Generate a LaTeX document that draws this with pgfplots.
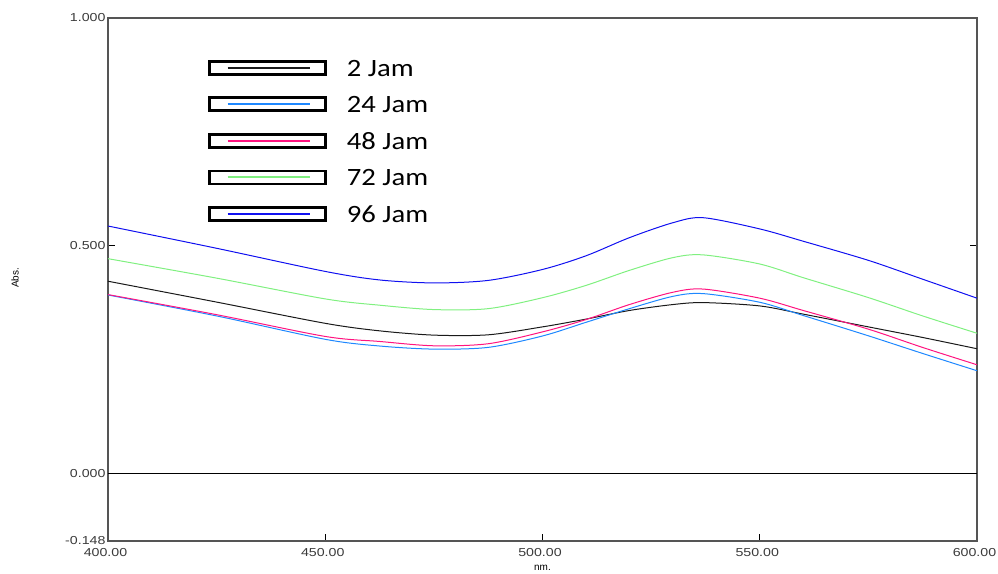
\documentclass[border=0pt]{standalone}
\usepackage{pgfplots}
\pgfplotsset{compat=1.18}
\usepackage{fontspec}
\setmainfont{Liberation Sans}
\newfontfamily\tickfont[FakeStretch=1.23]{Liberation Sans}
\newfontfamily\legendfont[FakeStretch=1.15]{Carlito}

\definecolor{axisgray}{HTML}{555555}
\definecolor{labelgray}{HTML}{3A3A3A}
\definecolor{c2}{HTML}{1A1A1A}
\definecolor{c24}{HTML}{1E88FF}
\definecolor{c48}{HTML}{FF1480}
\definecolor{c72}{HTML}{80F080}
\definecolor{c96}{HTML}{1010F0}

% absorbance spectra, wavelength (nm) vs absorbance
\pgfplotstableread{
x     a2     a24    a48    a72    a96
400   0.4222 0.3920 0.3929 0.4717 0.5434
425   0.3764 0.3460 0.3488 0.4290 0.4945
450   0.3298 0.2947 0.3010 0.3834 0.4437
462.5 0.3133 0.2800 0.2900 0.3696 0.4250
475   0.3039 0.2732 0.2805 0.3600 0.4185
487.5 0.3046 0.2770 0.2850 0.3620 0.4240
500   0.3220 0.3020 0.3110 0.3860 0.4480
510   0.3390 0.3320 0.3380 0.4130 0.4780
520   0.3580 0.3620 0.3710 0.4460 0.5178
530   0.3710 0.3890 0.3980 0.4740 0.5506
537   0.3753 0.3950 0.4050 0.4800 0.5616
550   0.3680 0.3760 0.3850 0.4600 0.5370
560   0.3500 0.3470 0.3580 0.4300 0.5100
575   0.3220 0.3024 0.3170 0.3863 0.4680
587.5 0.2987 0.2636 0.2768 0.3460 0.4266
600   0.2740 0.2257 0.2388 0.3080 0.3850
}\spectra

\begin{document}
\begin{tikzpicture}
\useasboundingbox (-108bp,-33bp) rectangle (890bp,541bp);
\begin{axis}[
  at={(0,0)}, anchor=south west,
  scale only axis,
  width=869bp, height=523bp,
  xmin=400, xmax=600,
  ymin=-0.148, ymax=1.0,
  axis line style={draw=axisgray, line width=1.6bp},
  xtick={400,450,500,550,600},
  xticklabels={400.00,450.00,500.00,550.00,600.00},
  ytick={-0.148,0,0.5,1},
  yticklabels={-0.148,0.000,0.500,1.000},
  xtick pos=bottom,
  ytick pos=both,
  tick align=inside,
  major tick length=7bp,
  tick style={draw=black, line width=0.9bp},
  /pgf/number format/assume math mode=true,
  ticklabel style={font=\tickfont\fontsize{11.6}{13}\selectfont, text=labelgray},
  xticklabel style={yshift=-4bp, xshift=-2.5bp},
  yticklabel style={xshift=1bp},
  xlabel={nm.},
  ylabel={Abs.},
  xlabel style={font=\tickfont\fontsize{11.4}{13}\selectfont, text=labelgray},
  ylabel style={font=\fontsize{11}{13}\selectfont, text=labelgray},
  every axis x label/.style={at={(rel axis cs:0.5,0)}, yshift=-27bp, anchor=center},
  every axis y label/.style={at={(rel axis cs:0,0.503)}, xshift=-93bp, rotate=90, anchor=center},
  legend style={draw=none, fill=none, inner sep=0pt,
    at={(rel axis cs:0.115,0.92)}, anchor=north west,
    font=\legendfont\fontsize{25}{28}\selectfont,
    row sep=20bp,
    nodes={inner sep=0pt, text depth=0pt}},
  legend cell align=left,
  legend image code/.code={
    \draw[black, line width=2.8bp, solid] (0bp,-6.5bp) rectangle (116bp,6.5bp);
    \draw[#1, line width=2bp] (18bp,0bp) -- (100bp,0bp);
  },
  legend style={/tikz/every odd column/.append style={column sep=20bp}},
]
\addplot[c2, line width=1bp, smooth] table[x=x, y=a2] {\spectra};
\addlegendentry{2 Jam}
\addplot[c24, line width=1bp, smooth] table[x=x, y=a24] {\spectra};
\addlegendentry{24 Jam}
\addplot[c48, line width=1bp, smooth] table[x=x, y=a48] {\spectra};
\addlegendentry{48 Jam}
\addplot[c72, line width=1bp, smooth] table[x=x, y=a72] {\spectra};
\addlegendentry{72 Jam}
\addplot[c96, line width=1bp, smooth] table[x=x, y=a96] {\spectra};
\addlegendentry{96 Jam}
\draw[black, line width=1bp] (axis cs:400,0) -- (axis cs:600,0);
\end{axis}
\end{tikzpicture}
\end{document}
